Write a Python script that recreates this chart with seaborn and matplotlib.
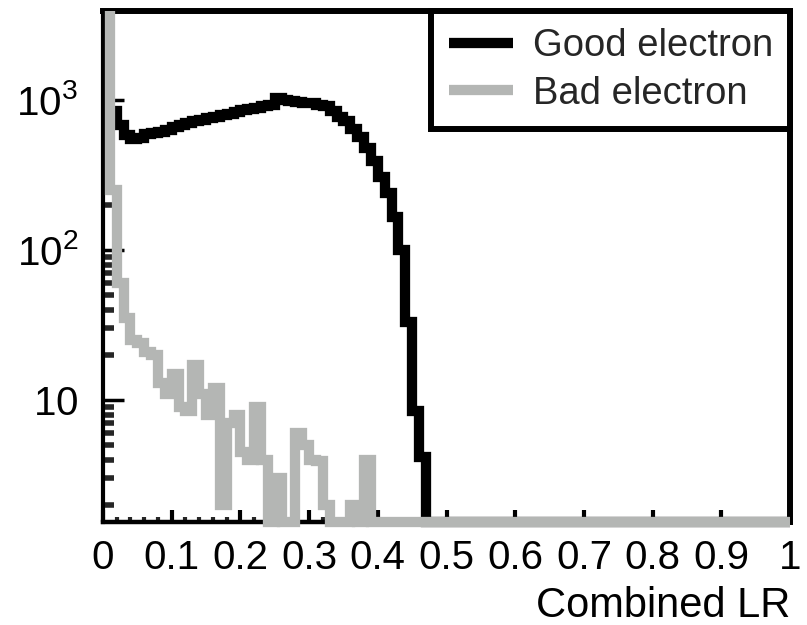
import numpy as np
import matplotlib
matplotlib.use("Agg")
import matplotlib.pyplot as plt
import seaborn as sns
from matplotlib.ticker import FixedLocator, FixedFormatter, MultipleLocator, LogLocator, NullFormatter
from matplotlib.transforms import Bbox, TransformedBbox
from matplotlib.lines import Line2D

# ---------------- data ----------------
bin_edges = np.round(np.linspace(0.0, 1.0, 101), 2)

good_counts = [800, 850, 680, 580, 550, 555, 590, 600, 615, 630,
               660, 680, 705, 720, 740, 760, 775, 790, 805, 830,
               855, 870, 880, 910, 925, 1030, 1000, 980, 975, 960,
               950, 930, 905, 850, 770, 720, 640, 565, 480, 390,
               305, 240, 165, 100, 33, 8.5, 4.2] + [0] * 53

bad_counts = [5000, 250, 60, 35, 25, 24, 21, 20, 13, 11,
              15, 9, 8.5, 17, 11, 8, 12, 2, 7, 8,
              4.5, 4, 9, 4, 0, 3, 0, 0, 6, 5,
              4, 3.9, 2, 0, 0, 0, 2, 0, 4, 0] + [0] * 60

series_labels = ["Good electron", "Bad electron"]
series_colors = ["#000000", "#b4b6b4"]

x_tick_values = [0, 0.1, 0.2, 0.3, 0.4, 0.5, 0.6, 0.7, 0.8, 0.9, 1.0]
x_tick_labels = ["0", "0.1", "0.2", "0.3", "0.4", "0.5", "0.6", "0.7", "0.8", "0.9", "1"]
y_tick_values = [10, 100, 1000]
y_tick_labels = [r"$\mathregular{10}$", r"$\mathregular{10^{2}}$", r"$\mathregular{10^{3}}$"]
x_label = "Combined LR"

y_min, y_max = 1.537, 3919

# ---------------- style ----------------
sns.set_theme(style="white")
plt.rcParams["font.family"] = ["Liberation Sans", "DejaVu Sans"]
plt.rcParams["mathtext.fontset"] = "custom"
plt.rcParams["mathtext.rm"] = "Liberation Sans"
plt.rcParams["mathtext.it"] = "Liberation Sans"
plt.rcParams["mathtext.bf"] = "Liberation Sans"

fig = plt.figure(figsize=(8.07, 6.25), dpi=100)
ax = fig.add_axes([103 / 807, 1 - 522 / 625, (790 - 103) / 807, (522 - 11) / 625])

lw = 7.4
for counts, label, color, z in zip([good_counts, bad_counts], series_labels, series_colors, [3, 4]):
    y = np.clip(np.append(np.asarray(counts, float), counts[-1]), y_min, y_max * 1.5)
    sns.lineplot(x=bin_edges, y=y, ax=ax, color=color, linewidth=lw, estimator=None,
                 sort=False, drawstyle="steps-post", label=label, zorder=z)

ax.set_yscale("log")
ax.set_xlim(0, 1)
ax.set_ylim(y_min, y_max)

# clip: allow the lines to show down over the bottom spine but not above the top
clip = TransformedBbox(Bbox([[-0.004, -0.03], [1.0, 1.0]]), ax.transAxes)
for ln in ax.get_lines():
    ln.set_clip_box(clip)
    ln.set_clip_on(True)
    ln.set_solid_capstyle("butt")
    ln.set_solid_joinstyle("miter")

# ticks
ax.xaxis.set_major_locator(FixedLocator(x_tick_values))
ax.xaxis.set_major_formatter(FixedFormatter(x_tick_labels))
ax.xaxis.set_minor_locator(MultipleLocator(0.02))
ax.yaxis.set_major_locator(FixedLocator(y_tick_values))
ax.yaxis.set_major_formatter(FixedFormatter(y_tick_labels))
ax.yaxis.set_minor_locator(LogLocator(base=10, subs=range(2, 10), numticks=20))
ax.yaxis.set_minor_formatter(NullFormatter())

ax.tick_params(axis="x", which="major", direction="in", length=8.6, width=3, bottom=True, top=False,
               labelsize=29, pad=12, colors="black")
ax.tick_params(axis="x", which="minor", direction="in", length=3.8, width=3, bottom=True, top=False)
ax.tick_params(axis="y", which="major", direction="in", length=15, width=2.5, left=True, right=False,
               labelsize=29, pad=18, colors="black")
ax.tick_params(axis="y", which="minor", direction="in", length=8, width=4, left=True, right=False)

for side, w in [("left", 3), ("bottom", 3.2), ("top", 4.3), ("right", 4.3)]:
    ax.spines[side].set_visible(True)
    ax.spines[side].set_color("black")
    ax.spines[side].set_linewidth(w)
    ax.spines[side].set_zorder(2)

ax.set_ylabel("")
ax.set_xlabel(x_label, loc="right", fontsize=30, labelpad=7, color="black")

# legend
handles = [Line2D([], [], color=c, linewidth=lw, solid_capstyle="butt") for c in series_colors]
leg = ax.legend(handles, series_labels, loc="upper right", borderaxespad=0, fontsize=27.5,
                frameon=True, fancybox=False, edgecolor="black", framealpha=1,
                handlelength=1.7, handletextpad=0.5, borderpad=0.45, labelspacing=0.3)
leg.get_frame().set_linewidth(4.3)
leg.set_zorder(10)

fig.savefig("out.png", dpi=100, facecolor="white")
